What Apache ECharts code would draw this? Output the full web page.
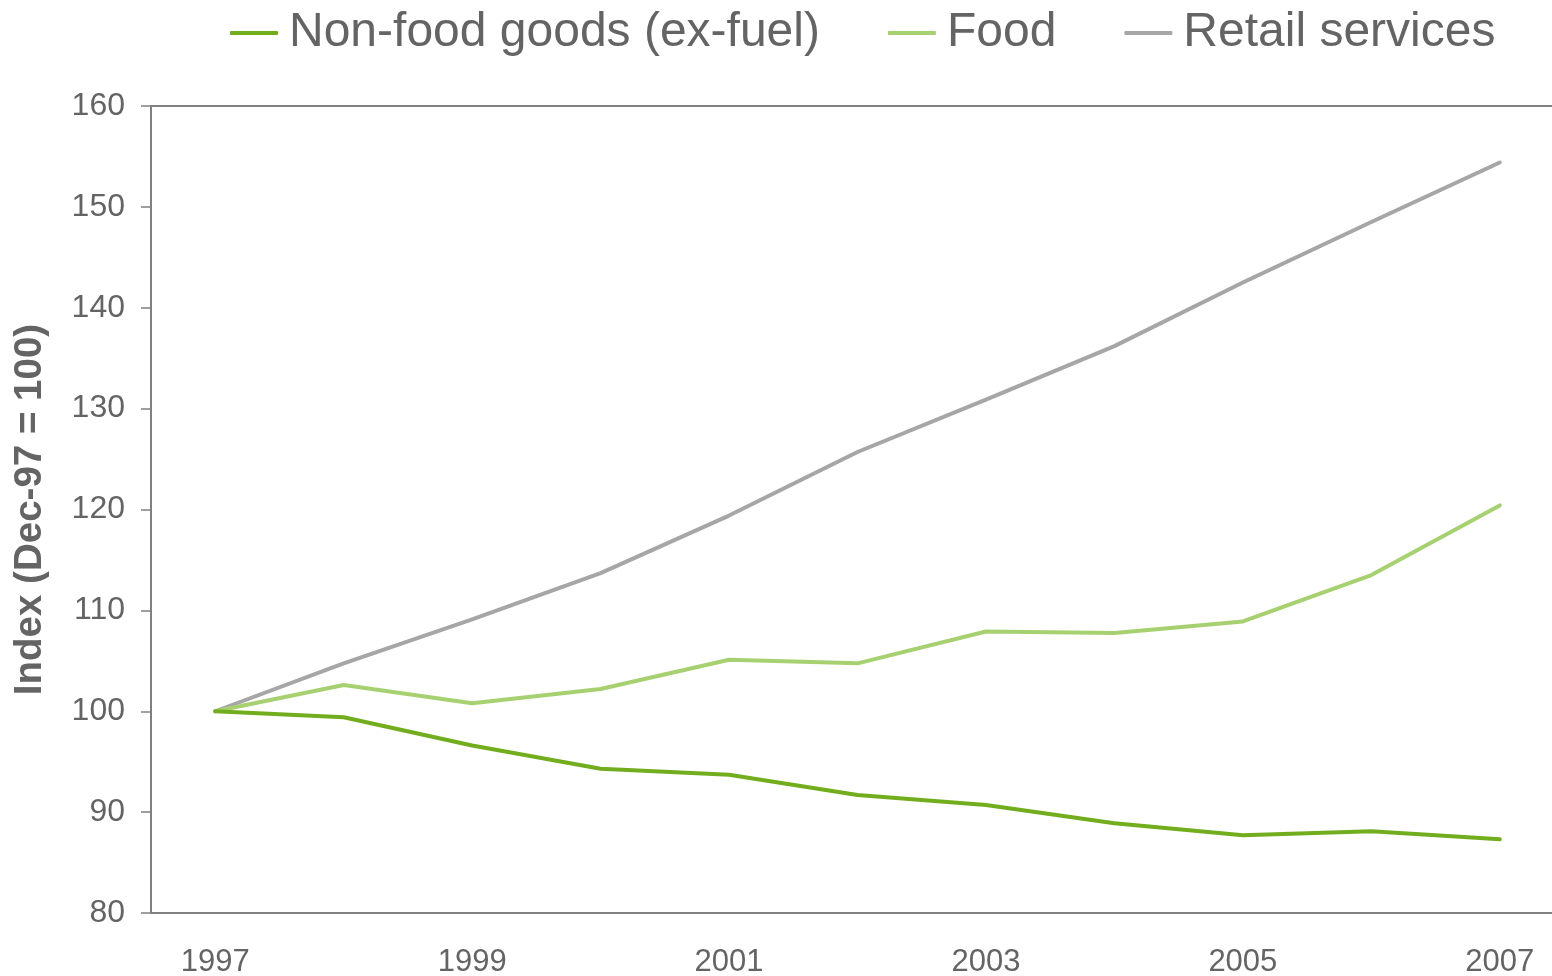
<!DOCTYPE html>
<html>
<head>
<meta charset="utf-8">
<script src="https://cdn.jsdelivr.net/npm/echarts@6/dist/echarts.min.js"></script>
<style>html,body{margin:0;padding:0;background:#fff;overflow:hidden;width:1552px;height:976px}#c{width:1600px;height:976px}</style>
</head>
<body>
<div id="c"></div>
<script>
const years = ['1997','1998','1999','2000','2001','2002','2003','2004','2005','2006','2007'];
const nonFood = [100, 99.4, 96.6, 94.3, 93.7, 91.7, 90.7, 88.9, 87.7, 88.1, 87.3];
const food = [100, 102.6, 100.8, 102.2, 105.1, 104.75, 107.9, 107.75, 108.9, 113.5, 120.4];
const retail = [100, 104.75, 109.1, 113.7, 119.4, 125.7, 130.9, 136.2, 142.5, 148.5, 154.4];
const yTicks = {min: 80, max: 160, interval: 10};
const seriesNames = ['Non-food goods (ex-fuel)', 'Food', 'Retail services'];
const colors = ['#72ad1e', '#a7d071', '#a6a6a6'];

const txt = '#646464';
const axisCol = '#808080';
const chart = echarts.init(document.getElementById('c'), null, {renderer: 'canvas'});
const datasets = [nonFood, food, retail];
chart.setOption({
  animation: false,
  textStyle: {fontFamily: 'Liberation Sans, Arial, sans-serif'},
  legend: {
    left: 225, top: 4,
    itemWidth: 48, itemHeight: 4, itemGap: 68,
    icon: 'roundRect',
    textStyle: {fontSize: 48, color: txt, padding: [0, 0, 0, 6]},
    data: seriesNames
  },
  grid: {left: 151, top: 106, bottom: 63, right: 36, outerBoundsMode: 'none', show: false, containLabel: false},
  xAxis: [{
    type: 'category', data: years, boundaryGap: true,
    axisLine: {lineStyle: {color: axisCol, width: 2}},
    axisTick: {show: false},
    axisLabel: {interval: 1, color: txt, fontSize: 31, margin: 34},
    splitLine: {show: false}
  }, {
    type: 'category', data: years, position: 'top', boundaryGap: true,
    axisLine: {show: true, lineStyle: {color: axisCol, width: 2}},
    axisTick: {show: false}, axisLabel: {show: false}, splitLine: {show: false}
  }],
  yAxis: {
    type: 'value', min: yTicks.min, max: yTicks.max, interval: yTicks.interval,
    name: 'Index (Dec-97 = 100)', nameLocation: 'middle', nameGap: 101,
    nameTextStyle: {fontSize: 38.5, fontWeight: 'bold', color: txt},
    axisLine: {show: true, lineStyle: {color: axisCol, width: 2}},
    axisTick: {show: true, length: 10, lineStyle: {color: axisCol, width: 1.5}},
    axisLabel: {color: txt, fontSize: 32, margin: 26},
    splitLine: {show: false}
  },
  series: seriesNames.map((n, i) => ({
    name: n, type: 'line', data: datasets[i], symbol: 'none',
    lineStyle: {color: colors[i], width: 4, cap: 'round', join: 'round'},
    itemStyle: {color: colors[i]},
    z: 3 - i
  }))
});
</script>
</body>
</html>
